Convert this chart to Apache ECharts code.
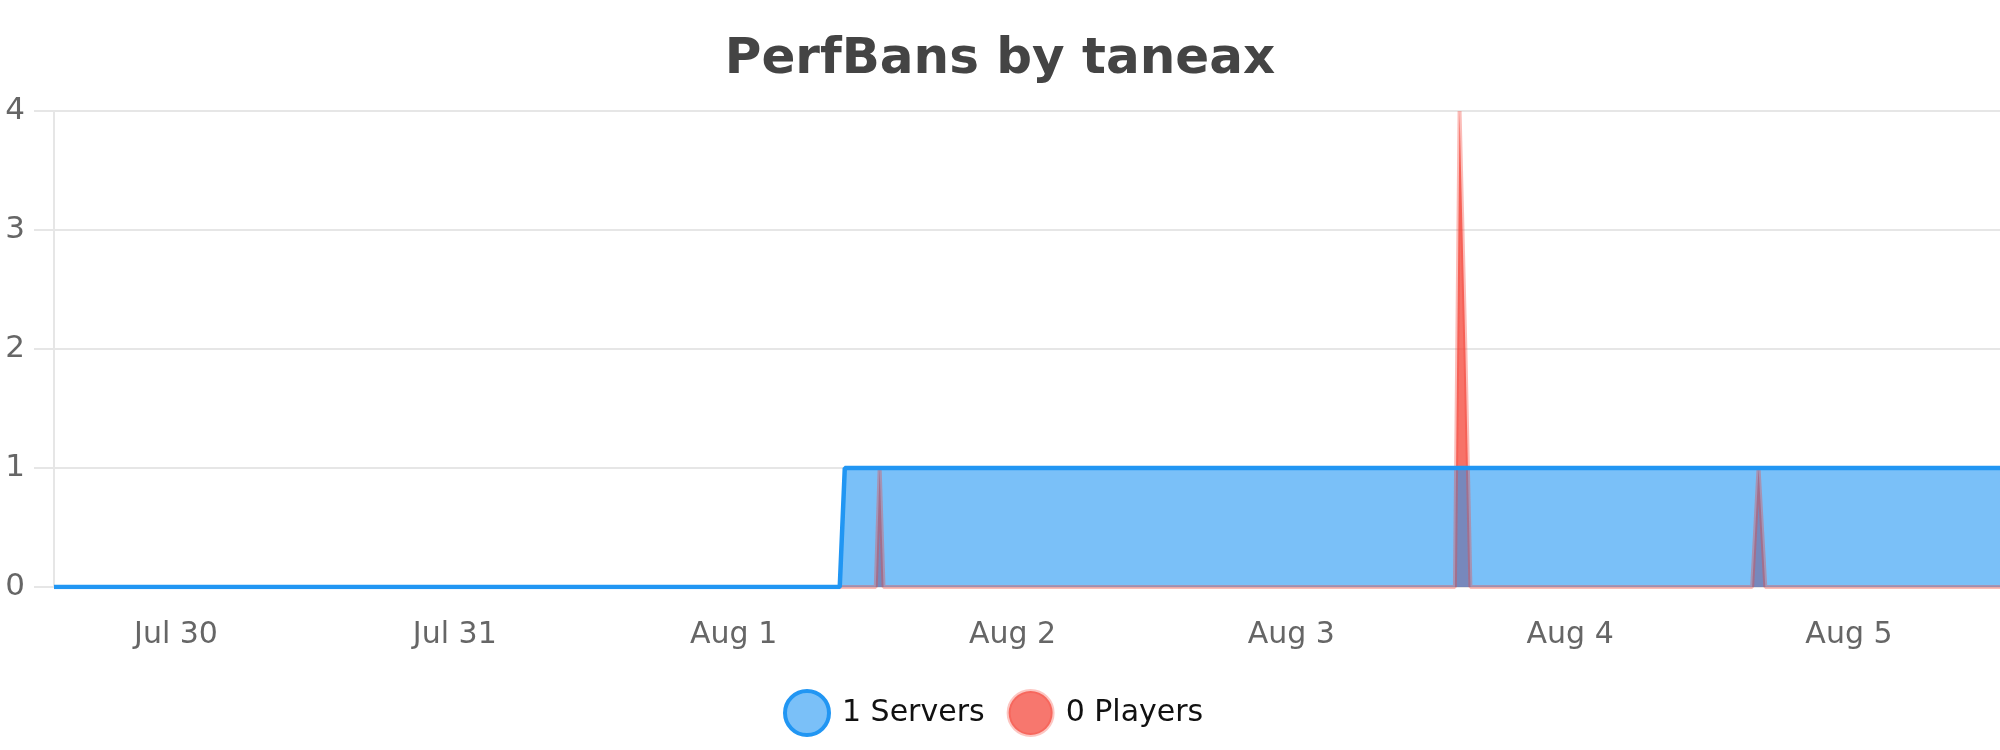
<!DOCTYPE html>
<html>
<head>
<meta charset="utf-8">
<title>PerfBans by taneax</title>
<script src="https://cdn.jsdelivr.net/npm/echarts@6/dist/echarts.min.js"></script>
<style>
  html, body { margin: 0; padding: 0; background: #fff; }
  #chart { width: 2000px; height: 750px; }
</style>
</head>
<body>
<div id="chart"></div>
<script>
// axis range
const axisStart = "2023-07-29 13:30";
const axisEnd = "2023-08-05 13:00";

// Servers series (change points only)
const serverTimes = ["2023-07-29 13:30", "2023-08-01 09:08", "2023-08-01 09:34", "2023-08-05 13:00"];
const serverValues = [0, 0, 1, 1];

// Players series (change points only)
const playerTimes = [
	"2023-07-29 13:30",
	"2023-08-01 12:14", "2023-08-01 12:34", "2023-08-01 12:54",
	"2023-08-03 14:05", "2023-08-03 14:29", "2023-08-03 14:59", "2023-08-03 15:25",
	"2023-08-04 15:40", "2023-08-04 16:13", "2023-08-04 16:48",
	"2023-08-05 13:00",
];
const playerValues = [0, 0, 1, 0, 0, 4, 2, 0, 0, 1, 0, 0];

const legendNames = ["1 Servers", "0 Players"];
const yTicks = [0, 1, 2, 3, 4];

const font = "DejaVu Sans";
const blue = "#2196F3";
const red = "#F44336";

const pairs = (times, values) => times.map((t, i) => [t, values[i]]);

const chartDom = document.getElementById("chart");
const myChart = echarts.init(chartDom);

const option = {
	animation: false,
	textStyle: { fontFamily: font },
	title: {
		text: "PerfBans by taneax",
		left: "center",
		top: 30,
		textStyle: { fontFamily: font, fontSize: 50, fontWeight: "bold", color: "#444444" },
	},
	grid: { left: 54, right: 0, top: 111, bottom: 163, containLabel: false },
	legend: {
		left: 778,
		top: 684,
		icon: "circle",
		itemWidth: 44,
		itemHeight: 44,
		itemGap: 22,
		textStyle: { fontFamily: font, fontSize: 30, color: "#111", padding: [0, 0, 0, 8] },
		data: [
			{ name: legendNames[0], itemStyle: { color: "rgba(33,150,243,0.6)", borderColor: blue, borderWidth: 4 } },
			{ name: legendNames[1], itemStyle: { color: "rgba(244,67,54,0.72)", borderColor: "rgba(244,67,54,0.3)", borderWidth: 4 } },
		],
	},
	xAxis: {
		type: "time",
		min: axisStart,
		max: axisEnd,
		minInterval: 24 * 3600 * 1000,
		maxInterval: 24 * 3600 * 1000,
		axisLine: { show: false },
		axisTick: { show: false },
		splitLine: { show: false },
		axisLabel: { fontFamily: font, fontSize: 30, color: "#666666", margin: 33, formatter: "{MMM} {d}" },
	},
	yAxis: {
		type: "value",
		min: yTicks[0],
		max: yTicks[yTicks.length - 1],
		interval: 1,
		axisLine: { show: true, lineStyle: { color: "#e6e6e6", width: 2 } },
		axisTick: { show: true, length: 20, lineStyle: { color: "#e6e6e6", width: 2 } },
		splitLine: { lineStyle: { color: "#e6e6e6", width: 2 } },
		axisLabel: { fontFamily: font, fontSize: 31, color: "#666666", margin: 29 },
	},
	series: [
		{
			name: legendNames[1],
			type: "line",
			symbol: "none",
			data: pairs(playerTimes, playerValues),
			lineStyle: { color: red, width: 4, opacity: 0.35 },
			areaStyle: { color: red, opacity: 0.75 },
			itemStyle: { color: red },
		},
		{
			name: legendNames[0],
			type: "line",
			symbol: "none",
			data: pairs(serverTimes, serverValues),
			lineStyle: { color: blue, width: 4.5 },
			areaStyle: { color: blue, opacity: 0.6 },
			itemStyle: { color: blue },
		},
	],
};

myChart.setOption(option);
</script>
</body>
</html>
